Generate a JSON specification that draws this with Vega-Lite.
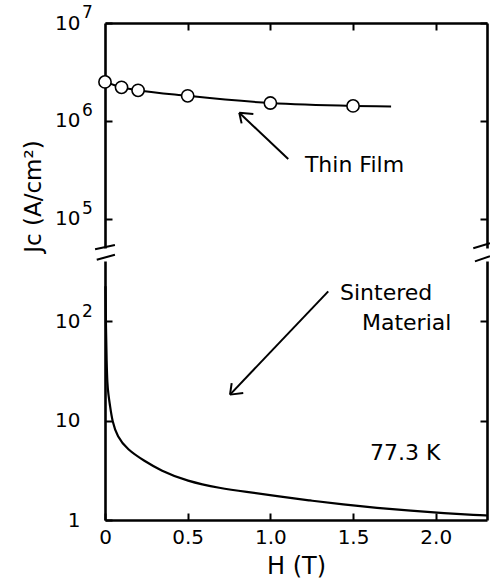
{
  "$schema": "https://vega.github.io/schema/vega-lite/v6.json",
  "background": "white",
  "padding": {"left": 22, "top": 4, "right": 2, "bottom": 2},
  "spacing": 0,
  "config": {
    "view": {"stroke": null},
    "axis": {
      "domainColor": "black", "domainWidth": 2.6, "tickColor": "black", "tickWidth": 2, "tickSize": -7,
      "labelColor": "black", "labelFont": "DejaVu Sans", "labelFontSize": 20,
      "titleColor": "black", "titleFont": "DejaVu Sans", "titleFontWeight": "normal",
      "grid": false, "labelFlush": false, "labelOverlap": false
    }
  },
  "datasets": {
    "film": [
      {"H": 0, "J": 2500000, "m": 1},
      {"H": 0.1, "J": 2200000, "m": 1},
      {"H": 0.2, "J": 2050000, "m": 1},
      {"H": 0.5, "J": 1800000, "m": 1},
      {"H": 1.0, "J": 1520000, "m": 1},
      {"H": 1.5, "J": 1420000, "m": 1},
      {"H": 1.73, "J": 1400000, "m": 0}
    ],
    "sinter": [
      {"H": 0.003, "J": 224},
      {"H": 0.006, "J": 81},
      {"H": 0.01, "J": 38},
      {"H": 0.014, "J": 23.6},
      {"H": 0.02, "J": 18.5},
      {"H": 0.03, "J": 14.2},
      {"H": 0.044, "J": 9.8},
      {"H": 0.074, "J": 6.9},
      {"H": 0.135, "J": 5.1},
      {"H": 0.236, "J": 3.94},
      {"H": 0.336, "J": 3.14},
      {"H": 0.495, "J": 2.45},
      {"H": 0.7, "J": 2.08},
      {"H": 0.85, "J": 1.92},
      {"H": 1.04, "J": 1.74},
      {"H": 1.24, "J": 1.57},
      {"H": 1.44, "J": 1.43},
      {"H": 1.645, "J": 1.32},
      {"H": 1.85, "J": 1.24},
      {"H": 2.05, "J": 1.17},
      {"H": 2.25, "J": 1.12},
      {"H": 2.31, "J": 1.11}
    ],
    "expUpper": [
      {"v": 10000000, "e": "7"},
      {"v": 1000000, "e": "6"},
      {"v": 100000, "e": "5"}
    ],
    "expLower": [
      {"v": 100, "e": "2"}
    ],
    "segUpper": [
      {"H1": 1.108, "J1": 407000, "H2": 0.812, "J2": 1210000},
      {"H1": 0.812, "J1": 1210000, "H2": 0.826, "J2": 942000},
      {"H1": 0.812, "J1": 1210000, "H2": 0.897, "J2": 1175000},
      {"H1": -0.06, "J1": 48640, "H2": 0.06, "J2": 53830},
      {"H1": 2.227, "J1": 49770, "H2": 2.328, "J2": 55980}
    ],
    "segLower": [
      {"H1": 1.35, "J1": 198.7, "H2": 0.756, "J2": 18.2},
      {"H1": 0.756, "J1": 18.2, "H2": 0.766, "J2": 23.8},
      {"H1": 0.756, "J1": 18.2, "H2": 0.836, "J2": 18.9},
      {"H1": -0.05, "J1": 413, "H2": 0.06, "J2": 464},
      {"H1": 2.237, "J1": 398, "H2": 2.328, "J2": 447}
    ],
    "textUpper": [
      {"H": 1.209, "J": 300000, "t": "Thin Film"}
    ],
    "textLower": [
      {"H": 1.421, "J": 162.6, "t": "Sintered"},
      {"H": 1.554, "J": 81.2, "t": "Material"},
      {"H": 1.602, "J": 4.01, "t": "77.3 K"}
    ]
  },
  "vconcat": [
    {
      "width": 382,
      "height": 225,
      "resolve": {"axis": {"y": "independent"}},
      "layer": [
        {
          "data": {"name": "film"},
          "mark": {"type": "line", "color": "black", "strokeWidth": 2, "interpolate": "monotone"},
          "encoding": {
            "x": {"field": "H", "type": "quantitative",
              "scale": {"domain": [0, 2.31], "nice": false, "zero": false},
              "axis": {"orient": "top", "values": [0.5, 1, 1.5, 2], "labels": false, "title": null}},
            "y": {"field": "J", "type": "quantitative",
              "scale": {"type": "log", "domain": [50119, 10000000], "nice": false},
              "axis": {"orient": "left", "values": [100000, 1000000, 10000000], "labelExpr": "'10'",
                "labelPadding": 32, "labelBaseline": "middle",
                "title": "Jc (A/cm²)", "titleFontSize": 23, "titleX": -72, "titleY": 173,
                "titleAngle": -90, "titleBaseline": "middle", "titleAlign": "center"}}
          }
        },
        {
          "data": {"name": "film"},
          "transform": [{"filter": "datum.m == 1"}],
          "mark": {"type": "point", "shape": "circle", "filled": true, "fill": "white", "stroke": "black", "strokeWidth": 1.6, "size": 150, "opacity": 1},
          "encoding": {
            "x": {"field": "H", "type": "quantitative"},
            "y": {"field": "J", "type": "quantitative",
              "axis": {"orient": "right", "values": [100000, 1000000, 10000000], "labels": false, "title": null}}
          }
        },
        {
          "data": {"name": "expUpper"},
          "mark": {"type": "text", "font": "DejaVu Sans", "fontSize": 17, "align": "left", "baseline": "middle", "dx": -23, "dy": -10, "color": "black"},
          "encoding": {
            "x": {"datum": 0, "type": "quantitative"},
            "y": {"field": "v", "type": "quantitative", "axis": null},
            "text": {"field": "e"}
          }
        },
        {
          "data": {"name": "segUpper"},
          "mark": {"type": "rule", "color": "black", "strokeWidth": 2, "clip": false},
          "encoding": {
            "x": {"field": "H1", "type": "quantitative"},
            "x2": {"field": "H2"},
            "y": {"field": "J1", "type": "quantitative", "axis": null},
            "y2": {"field": "J2"}
          }
        },
        {
          "data": {"name": "textUpper"},
          "mark": {"type": "text", "font": "DejaVu Sans", "fontSize": 22, "align": "left", "baseline": "alphabetic", "color": "black"},
          "encoding": {
            "x": {"field": "H", "type": "quantitative"},
            "y": {"field": "J", "type": "quantitative", "axis": null},
            "text": {"field": "t"}
          }
        }
      ]
    },
    {
      "width": 382,
      "height": 259,
      "resolve": {"axis": {"y": "independent"}},
      "layer": [
        {
          "data": {"name": "sinter"},
          "mark": {"type": "line", "color": "black", "strokeWidth": 2.2, "interpolate": "basis"},
          "encoding": {
            "x": {"field": "H", "type": "quantitative",
              "scale": {"domain": [0, 2.31], "nice": false, "zero": false},
              "axis": {"orient": "bottom", "values": [0, 0.5, 1, 1.5, 2],
                "labelExpr": "datum.value == 0 ? '0' : format(datum.value, '.1f')",
                "labelPadding": 14, "title": "H (T)", "titleFontSize": 24, "titlePadding": 7}},
            "y": {"field": "J", "type": "quantitative",
              "scale": {"type": "log", "domain": [1, 401], "nice": false},
              "axis": {"orient": "left", "values": [1, 10, 100], "labelExpr": "datum.value == 1 ? '1' : '10'",
                "labelPadding": 32, "labelBaseline": "middle", "title": null}}
          }
        },
        {
          "data": {"name": "sinter"},
          "mark": {"type": "line", "opacity": 0},
          "encoding": {
            "x": {"field": "H", "type": "quantitative"},
            "y": {"field": "J", "type": "quantitative",
              "axis": {"orient": "right", "values": [10, 100], "labels": false, "title": null}}
          }
        },
        {
          "data": {"name": "expLower"},
          "mark": {"type": "text", "font": "DejaVu Sans", "fontSize": 17, "align": "left", "baseline": "middle", "dx": -23, "dy": -9, "color": "black"},
          "encoding": {
            "x": {"datum": 0, "type": "quantitative"},
            "y": {"field": "v", "type": "quantitative", "axis": null},
            "text": {"field": "e"}
          }
        },
        {
          "data": {"name": "segLower"},
          "mark": {"type": "rule", "color": "black", "strokeWidth": 2, "clip": false},
          "encoding": {
            "x": {"field": "H1", "type": "quantitative"},
            "x2": {"field": "H2"},
            "y": {"field": "J1", "type": "quantitative", "axis": null},
            "y2": {"field": "J2"}
          }
        },
        {
          "data": {"name": "textLower"},
          "mark": {"type": "text", "font": "DejaVu Sans", "fontSize": 22, "align": "left", "baseline": "alphabetic", "color": "black"},
          "encoding": {
            "x": {"field": "H", "type": "quantitative"},
            "y": {"field": "J", "type": "quantitative", "axis": null},
            "text": {"field": "t"}
          }
        }
      ]
    }
  ]
}
